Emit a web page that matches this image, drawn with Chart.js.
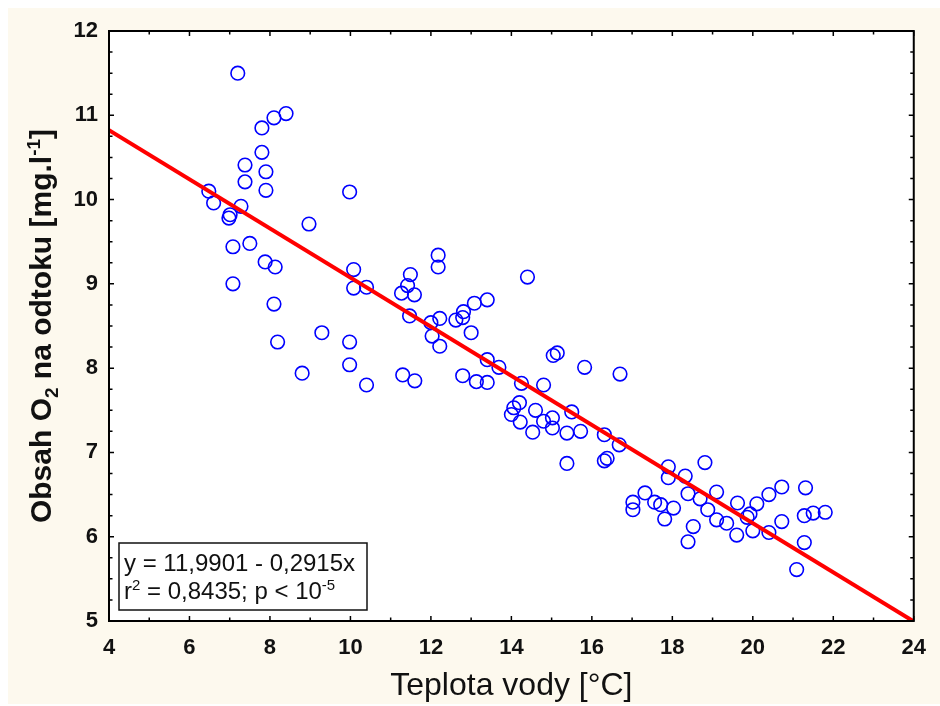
<!DOCTYPE html>
<html>
<head>
<meta charset="utf-8">
<script src="https://cdn.jsdelivr.net/npm/chart.js@4.4.1/dist/chart.umd.min.js"></script>
<style>
html,body{margin:0;padding:0;background:#ffffff;}
canvas{display:block;}
</style>
</head>
<body>
<canvas id="c" width="940" height="706"></canvas>
<script>
// ---- data ----
const temperature = [
  7.2, 8.4, 8.1, 7.8, 7.8, 7.38, 7.9, 7.38, 7.9, 6.48,
  6.6, 7.28, 7.01, 6.98, 7.08, 7.5, 7.88, 8.13, 7.08, 8.97,
  9.98, 8.1, 8.19, 9.29, 8.8, 10.08, 10.08, 10.4, 9.98, 9.98,
  10.4, 11.3, 11.6, 11.27, 11.42, 11.49, 11.59, 11.47, 12.18, 12.18,
  12.0, 12.22, 12.03, 12.22, 12.62, 12.79, 12.81, 13.08, 13.4, 13.0,
  13.4, 13.69, 12.79, 13.13, 13.4, 14.25, 14.8, 14.4, 15.04, 15.14,
  15.82, 16.7, 14.06, 14.2, 14.0, 14.22, 14.6, 14.53, 14.8, 15.02,
  15.02, 15.5, 15.38, 15.72, 16.31, 16.68, 15.38, 16.38, 16.31, 17.9,
  17.9, 18.32, 18.81, 18.39, 18.69, 19.1, 18.88, 19.1, 19.35, 19.62,
  19.86, 20.1, 20.4, 20.72, 19.6, 20.0, 20.4, 20.72, 21.31, 21.28,
  21.5, 21.8, 21.28, 21.09, 17.02, 17.02, 17.32, 17.56, 17.71, 17.81,
  18.03, 18.52, 18.39, 19.93
];
const oxygen = [
  11.5, 11.02, 10.97, 10.85, 10.56, 10.41, 10.33, 10.21, 10.11, 10.1,
  9.96, 9.92, 9.82, 9.78, 9.44, 9.48, 9.26, 9.2, 9.0, 9.71,
  10.09, 8.76, 8.31, 8.42, 7.94, 9.17, 8.95, 8.96, 8.31, 8.04,
  7.8, 7.92, 7.85, 8.89, 8.98, 9.11, 8.87, 8.62, 9.34, 9.2,
  8.54, 8.59, 8.38, 8.26, 8.57, 8.6, 8.67, 8.77, 8.81, 8.42,
  8.1, 8.01, 7.91, 7.84, 7.83, 7.82, 7.8, 9.08, 8.15, 8.18,
  8.01, 7.93, 7.53, 7.59, 7.45, 7.36, 7.5, 7.24, 7.37, 7.41,
  7.29, 7.48, 7.23, 7.25, 7.21, 7.09, 6.87, 6.93, 6.9, 6.83,
  6.7, 6.72, 6.88, 6.51, 6.45, 6.53, 6.32, 6.2, 6.16, 6.4,
  6.23, 6.39, 6.5, 6.59, 6.02, 6.07, 6.05, 6.18, 6.58, 6.25,
  6.28, 6.29, 5.93, 5.61, 6.41, 6.32, 6.52, 6.41, 6.38, 6.21,
  6.34, 6.12, 5.94, 6.27
];
// regression line y = 11,9901 - 0,2915x, end points
const fitX = [4, 24];
const fitY = [10.8241, 4.9941];

const xTicks = [4, 6, 8, 10, 12, 14, 16, 18, 20, 22, 24];
const yTicks = [5, 6, 7, 8, 9, 10, 11, 12];

const xTitle = 'Teplota vody [°C]';
const yTitleParts = [['Obsah O', 0], ['2', -1], [' na odtoku [mg.l', 0], ['-1', 1], [']', 0]];
const eqLine1 = [['y = 11,9901 - 0,2915x', 0]];
const eqLine2 = [['r', 0], ['2', 1], [' = 0,8435; p < 10', 0], ['-5', 1]];

// ---- styling ----
const CREAM = '#fdf9ee';
const FONT = "'Liberation Sans', Arial, sans-serif";
const TXT = '#111111';

const points = temperature.map((t, i) => ({x: t, y: oxygen[i]}));
const fitPoints = fitX.map((t, i) => ({x: t, y: fitY[i]}));

function drawRich(ctx, parts, size, weight) {
  const small = Math.round(size * 0.62);
  let w = 0;
  const items = parts.map(([t, m]) => {
    ctx.font = `${weight} ${m ? small : size}px ${FONT}`;
    const iw = ctx.measureText(t).width;
    const it = {t, m, x: w, f: ctx.font};
    w += iw;
    return it;
  });
  return {width: w, draw(x0, y0) {
    items.forEach(it => {
      ctx.font = it.f;
      const dy = it.m === 1 ? -size * 0.38 : (it.m === -1 ? size * 0.22 : 0);
      ctx.fillText(it.t, x0 + it.x, y0 + dy);
    });
  }};
}

const framePlugin = {
  id: 'frame',
  beforeDraw(chart) {
    const {ctx, chartArea: a} = chart;
    ctx.save();
    ctx.fillStyle = '#ffffff';
    ctx.fillRect(0, 0, chart.width, chart.height);
    ctx.fillStyle = CREAM;
    ctx.fillRect(8, 8, chart.width - 8, chart.height - 10);
    ctx.fillStyle = '#ffffff';
    ctx.fillRect(a.left, a.top, a.right - a.left, a.bottom - a.top);
    ctx.restore();
  },
  afterDraw(chart) {
    const {ctx, chartArea: a} = chart;
    const xs = chart.scales.x, ys = chart.scales.y;
    ctx.save();
    ctx.strokeStyle = '#000000';
    ctx.lineWidth = 1.5;
    ctx.beginPath();
    for (let v = xs.min; v <= xs.max + 1e-9; v += 1) {
      const p = xs.getPixelForValue(v);
      const len = (Math.round(v) % 2 === 0) ? 5 : 3.5;
      ctx.moveTo(p, a.bottom); ctx.lineTo(p, a.bottom - len);
      ctx.moveTo(p, a.top); ctx.lineTo(p, a.top + len);
    }
    for (let v = ys.min; v <= ys.max + 1e-9; v += 0.25) {
      const p = ys.getPixelForValue(v);
      const len = (Math.abs(v - Math.round(v)) < 1e-6) ? 5 : 3.5;
      ctx.moveTo(a.left, p); ctx.lineTo(a.left + len, p);
      ctx.moveTo(a.right, p); ctx.lineTo(a.right - len, p);
    }
    ctx.stroke();
    ctx.lineWidth = 2;
    ctx.strokeRect(a.left, a.top, a.right - a.left, a.bottom - a.top);

    // equation box
    const bx = a.left + 10, by = a.bottom - 78, bw = 248, bh = 67;
    ctx.fillStyle = '#ffffff';
    ctx.fillRect(bx, by, bw, bh);
    ctx.lineWidth = 1.5;
    ctx.strokeStyle = '#111111';
    ctx.strokeRect(bx, by, bw, bh);
    ctx.fillStyle = TXT;
    ctx.textBaseline = 'alphabetic';
    ctx.textAlign = 'left';
    drawRich(ctx, eqLine1, 24, 'normal').draw(bx + 5, by + 28);
    drawRich(ctx, eqLine2, 24, 'normal').draw(bx + 5, by + 56);

    // y axis title (rotated)
    ctx.translate(51, (a.top + a.bottom) / 2);
    ctx.rotate(-Math.PI / 2);
    const r = drawRich(ctx, yTitleParts, 30, 'bold');
    r.draw(-r.width / 2, 0);
    ctx.restore();
  }
};

new Chart(document.getElementById('c'), {
  type: 'scatter',
  data: {
    datasets: [
      {
        type: 'line',
        label: 'fit',
        data: fitPoints,
        borderColor: '#ff0000',
        borderWidth: 4,
        pointRadius: 0,
        fill: false,
        tension: 0,
        order: 0
      },
      {
        label: 'O2',
        data: points,
        pointStyle: 'circle',
        pointRadius: 6.8,
        pointBorderWidth: 1.6,
        borderColor: '#0000ff',
        backgroundColor: 'rgba(0,0,0,0)',
        pointBackgroundColor: 'rgba(0,0,0,0)',
        order: 1
      }
    ]
  },
  options: {
    responsive: false,
    animation: false,
    devicePixelRatio: 1,
    layout: {padding: {left: 0, right: 15, top: 31, bottom: 0}},
    plugins: {legend: {display: false}, tooltip: {enabled: false}},
    scales: {
      x: {
        type: 'linear', min: 4, max: 24,
        afterBuildTicks: s => { s.ticks = xTicks.map(v => ({value: v})); },
        afterFit: s => { s.height = 85; },
        grid: {display: false, drawTicks: false},
        border: {display: false},
        ticks: {padding: 14, color: TXT, font: {family: FONT, size: 22, weight: 'bold'}},
        title: {display: true, text: xTitle, color: TXT, font: {family: FONT, size: 32}, padding: {top: 0, bottom: 1}}
      },
      y: {
        type: 'linear', min: 5, max: 12,
        afterBuildTicks: s => { s.ticks = yTicks.map(v => ({value: v})); },
        afterFit: s => { s.width = 109; },
        grid: {display: false, drawTicks: false},
        border: {display: false},
        ticks: {padding: 11, color: TXT, font: {family: FONT, size: 22, weight: 'bold'}}
      }
    }
  },
  plugins: [framePlugin]
});
</script>
</body>
</html>
